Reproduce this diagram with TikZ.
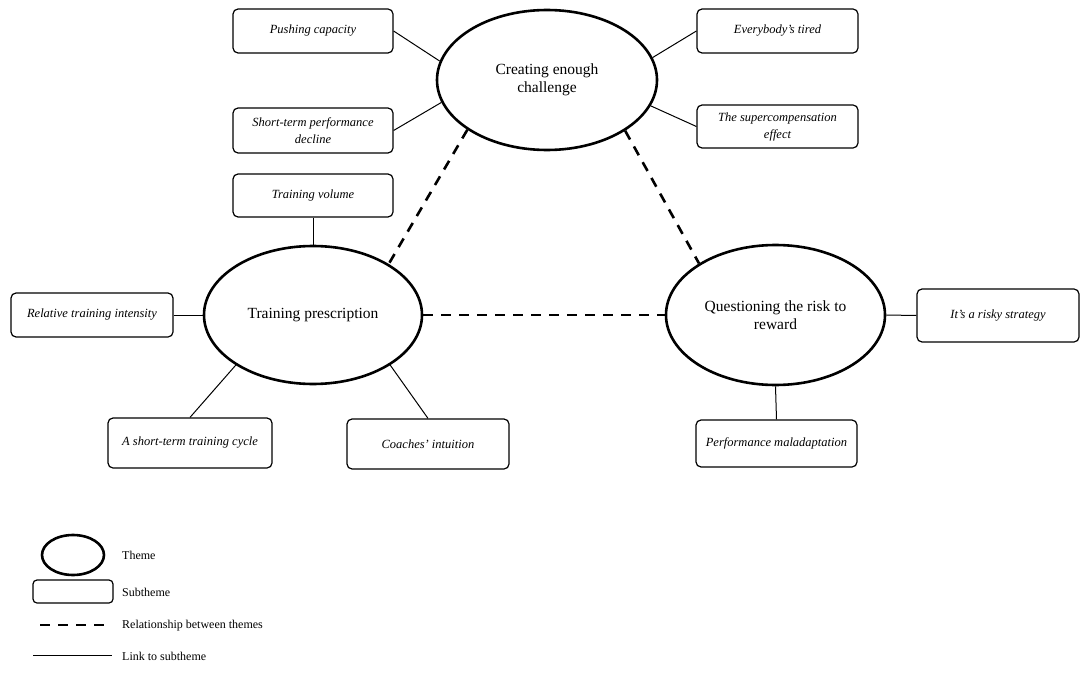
\documentclass[tikz,border=0pt]{standalone}
\usepackage{fontspec}
\setmainfont{Liberation Serif}
\usetikzlibrary{shapes.geometric}
\tikzset{
  theme/.style={draw, ellipse, line width=2.6pt, inner sep=0pt, align=center, font=\fontsize{15.5}{18}\selectfont},
  subtheme/.style={draw, rectangle, rounded corners=5pt, line width=1.2pt, inner sep=0pt, align=center, font=\fontsize{12.5}{17}\selectfont\itshape},
  link/.style={line width=1pt},
  relation/.style={line width=2.6pt, dash pattern=on 10pt off 8pt},
  legendtext/.style={anchor=west, inner sep=0pt, font=\fontsize{12}{14}\selectfont}
}
\begin{document}
\begin{tikzpicture}[x=1pt,y=-1pt]
\useasboundingbox (0,0) rectangle (1084,674);
% themes
\node[theme, minimum width=220pt, minimum height=140pt] (cec) at (547,80) {Creating enough\\challenge};
\node[theme, minimum width=218pt, minimum height=138pt] (tp) at (313,315) {Training prescription};
\node[theme, minimum width=219pt, minimum height=140pt] (q) at (775.5,315) {Questioning the risk to\\reward};
% subthemes
\node[subtheme, minimum width=160pt, minimum height=44pt] (push) at (313,31) {Pushing capacity};
\node[subtheme, minimum width=160pt, minimum height=45pt] (ste) at (313,130.5) {Short-term performance\\decline};
\node[subtheme, minimum width=161pt, minimum height=44pt] (every) at (777.5,31) {Everybody's tired};
\node[subtheme, minimum width=161pt, minimum height=43pt] (super) at (777.5,126.5) {The supercompensation\\effect};
\node[subtheme, minimum width=160pt, minimum height=43pt] (tv) at (313,195.5) {Training volume};
\node[subtheme, minimum width=162pt, minimum height=44pt] (rti) at (92,315) {Relative training intensity};
\node[subtheme, minimum width=164pt, minimum height=50pt] (stc) at (190,443) {A short-term training cycle};
\node[subtheme, minimum width=162pt, minimum height=50pt] (coach) at (428,444) {Coaches' intuition};
\node[subtheme, minimum width=162pt, minimum height=53pt] (risky) at (998,315.5) {It's a risky strategy};
\node[subtheme, minimum width=161pt, minimum height=47pt] (mal) at (776.5,443.5) {Performance maladaptation};
% links
\draw[link] (push.east) -- (cec.170);
\draw[link] (ste.east) -- (cec.192);
\draw[link] (every.west) -- (cec.12);
\draw[link] (super.west) -- (cec.346);
\draw[link] (tv.south) -- (tp.north);
\draw[link] (rti.east) -- (tp.west);
\draw[link] (stc.north) -- (tp.213);
\draw[link] (coach.north) -- (tp.327);
\draw[link] (risky.west) -- (q.east);
\draw[link] (mal.north) -- (q.south);
% relations
\draw[relation] (cec.212) -- (tp.34);
\draw[relation] (cec.327) -- (q.146);
\draw[relation] (tp.east) -- (q.west);
% legend
\node[draw, ellipse, line width=2.6pt, minimum width=62pt, minimum height=40pt, inner sep=0pt] (lth) at (73,555) {};
\node[draw, rectangle, rounded corners=4pt, line width=1.2pt, minimum width=80pt, minimum height=23pt, inner sep=0pt] (lsub) at (73,591.5) {};
\coordinate (lda) at (40,625);
\coordinate (ldb) at (111,625);
\coordinate (lla) at (33,655);
\coordinate (llb) at (112,655);
\draw[relation] (lda) -- (ldb);
\draw[link] (lla) -- (llb);
\node[legendtext] (t1) at (122,555) {Theme};
\node[legendtext] (t2) at (122,592) {Subtheme};
\node[legendtext] (t3) at (122,626) {Relationship between themes};
\node[legendtext] (t4) at (122,656) {Link to subtheme};
\end{tikzpicture}
\end{document}
